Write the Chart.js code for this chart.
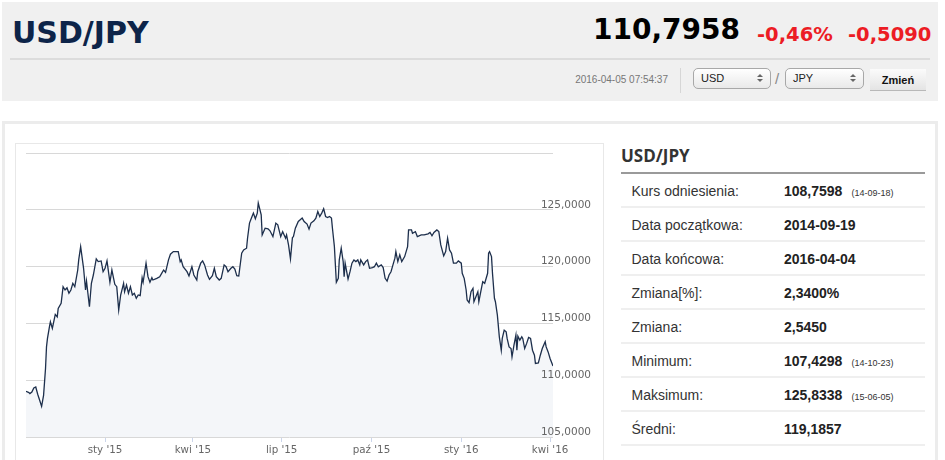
<!DOCTYPE html>
<html><head><meta charset="utf-8">
<script src="https://cdn.jsdelivr.net/npm/chart.js"></script>
<style>
html,body{margin:0;padding:0;background:#fff;width:945px;height:460px;overflow:hidden;}
.abs{position:absolute;}
#hdr{left:2px;top:2px;width:936px;height:99px;background:#f0f0f0;}
.big{font-family:"DejaVu Sans",Verdana,sans-serif;font-weight:bold;line-height:1;white-space:nowrap;}
.sel{height:19px;border:1px solid #a8a8a8;border-radius:5px;background:linear-gradient(#ffffff,#e9e9e9);font-family:"Liberation Sans",Arial,sans-serif;font-size:11px;color:#222;line-height:19px;box-sizing:content-box;}
.sel span{position:absolute;left:7px;top:0;}
.arr{position:absolute;right:7px;width:0;height:0;border-left:3px solid transparent;border-right:3px solid transparent;}
.up{top:5px;border-bottom:3px solid #666;}
.dn{top:10px;border-top:3px solid #666;}
#card{left:2px;top:121px;width:930px;height:345px;border:3px solid #ececec;}
#cbox{left:15px;top:143px;width:587px;height:330px;border:1px solid #e8e8e8;}
.row{position:absolute;left:621px;width:304px;height:32px;border-bottom:2px solid #efefef;font-family:"Liberation Sans",Arial,sans-serif;font-size:14px;color:#333;line-height:34px;}
.row .l{position:absolute;left:10.5px;}
.row .v{position:absolute;left:163px;font-weight:bold;color:#222;}
.row .v small{font-weight:normal;font-size:9px;margin-left:9px;color:#333;}
</style></head>
<body>
<div id="hdr" class="abs"></div>
<div class="abs big" style="left:12px;top:17.5px;font-size:30px;color:#0d2449;">USD/JPY</div>
<div class="abs big" style="left:593px;top:16px;font-size:28px;color:#000;">110,7958</div>
<div class="abs big" style="left:757px;top:25px;font-size:19.5px;color:#ec1c24;">-0,46%</div>
<div class="abs big" style="left:848px;top:25px;font-size:19.5px;color:#ec1c24;">-0,5090</div>
<div class="abs" style="left:10px;top:58px;width:920px;height:2px;background:#dcdcdc;"></div>
<div class="abs" style="left:500px;top:74px;width:168px;text-align:right;font-family:'Liberation Sans',Arial,sans-serif;font-size:10px;color:#777;">2016-04-05 07:54:37</div>
<div class="abs" style="left:680px;top:68px;width:1px;height:25px;background:#d6d6d6;"></div>
<div class="abs sel" style="left:693px;top:68px;width:76px;"><span>USD</span><i class="arr up"></i><i class="arr dn"></i></div>
<div class="abs" style="left:775px;top:70px;font-family:'Liberation Sans',Arial,sans-serif;font-size:15px;color:#888;">/</div>
<div class="abs sel" style="left:785px;top:68px;width:77px;"><span>JPY</span><i class="arr up"></i><i class="arr dn"></i></div>
<div class="abs" style="left:870px;top:69px;width:56px;height:21px;background:linear-gradient(#fbfbfb,#e4e4e4);border-bottom:1px solid #b8b8b8;font-family:'Liberation Sans',Arial,sans-serif;font-size:11px;font-weight:bold;color:#111;text-align:center;line-height:22px;">Zmień</div>

<div id="card" class="abs"></div>
<div id="cbox" class="abs"></div>
<canvas id="c" class="abs" width="588" height="317" style="left:15px;top:143px;width:588px;height:317px;"></canvas>

<div class="abs" style="left:621px;top:147px;font-family:'Open Sans',sans-serif;font-weight:700;font-size:17px;line-height:1;color:#333;">USD/JPY</div>
<div class="abs" style="left:621px;top:171.5px;width:304px;height:2px;background:#9a9a9a;"></div>
<div class="row" style="top:174px"><span class="l">Kurs odniesienia:</span><span class="v">108,7598<small>(14-09-18)</small></span></div>
<div class="row" style="top:208px"><span class="l">Data początkowa:</span><span class="v">2014-09-19</span></div>
<div class="row" style="top:242px"><span class="l">Data końcowa:</span><span class="v">2016-04-04</span></div>
<div class="row" style="top:276px"><span class="l">Zmiana[%]:</span><span class="v">2,3400%</span></div>
<div class="row" style="top:310px"><span class="l">Zmiana:</span><span class="v">2,5450</span></div>
<div class="row" style="top:344px"><span class="l">Minimum:</span><span class="v">107,4298<small>(14-10-23)</small></span></div>
<div class="row" style="top:378px"><span class="l">Maksimum:</span><span class="v">125,8338<small>(15-06-05)</small></span></div>
<div class="row" style="top:412px"><span class="l">Średni:</span><span class="v">119,1857</span></div>

<script>
const dates = [
"2014-10-12","2014-10-15","2014-10-16","2014-10-18","2014-10-20","2014-10-22","2014-10-24","2014-10-26","2014-10-28","2014-10-30",
"2014-11-01","2014-11-02","2014-11-03","2014-11-05","2014-11-06","2014-11-08","2014-11-11","2014-11-13","2014-11-14","2014-11-17",
"2014-11-19","2014-11-21","2014-11-23","2014-11-25","2014-11-27","2014-11-29","2014-12-01","2014-12-04","2014-12-05","2014-12-07",
"2014-12-10","2014-12-12","2014-12-13","2014-12-16","2014-12-18","2014-12-20","2014-12-23","2014-12-25","2014-12-28","2014-12-30",
"2015-01-01","2015-01-03","2015-01-06","2015-01-08","2015-01-11","2015-01-13","2015-01-15","2015-01-17","2015-01-20","2015-01-21",
"2015-01-23","2015-01-25","2015-01-27","2015-01-29","2015-01-31","2015-02-02","2015-02-04","2015-02-06","2015-02-08","2015-02-09",
"2015-02-12","2015-02-14","2015-02-16","2015-02-18","2015-02-19","2015-02-23","2015-02-26","2015-02-28","2015-03-02","2015-03-04",
"2015-03-07","2015-03-09","2015-03-12","2015-03-17","2015-03-19","2015-03-20","2015-03-22","2015-03-26","2015-03-28","2015-03-31",
"2015-04-02","2015-04-05","2015-04-06","2015-04-09","2015-04-11","2015-04-13","2015-04-16","2015-04-18","2015-04-21","2015-04-23",
"2015-04-25","2015-04-28","2015-04-30","2015-05-03","2015-05-05","2015-05-07","2015-05-10","2015-05-12","2015-05-14","2015-05-16",
"2015-05-18","2015-05-21","2015-05-23","2015-05-26","2015-05-27","2015-05-29","2015-05-31","2015-06-02","2015-06-04","2015-06-06",
"2015-06-07","2015-06-10","2015-06-11","2015-06-14","2015-06-17","2015-06-19","2015-06-22","2015-06-25","2015-06-27","2015-06-30",
"2015-07-02","2015-07-05","2015-07-06","2015-07-08","2015-07-10","2015-07-12","2015-07-13","2015-07-15","2015-07-18","2015-07-20",
"2015-07-22","2015-07-24","2015-07-27","2015-07-29","2015-07-31","2015-08-03","2015-08-05","2015-08-07","2015-08-09","2015-08-11",
"2015-08-13","2015-08-15","2015-08-17","2015-08-19","2015-08-21","2015-08-22","2015-08-24","2015-08-26","2015-08-28","2015-08-29",
"2015-08-31","2015-09-02","2015-09-03","2015-09-04","2015-09-07","2015-09-09","2015-09-11","2015-09-13","2015-09-15","2015-09-17",
"2015-09-19","2015-09-20","2015-09-23","2015-09-25","2015-09-27","2015-09-29","2015-10-02","2015-10-04","2015-10-06","2015-10-08",
"2015-10-11","2015-10-13","2015-10-15","2015-10-17","2015-10-19","2015-10-21","2015-10-23","2015-10-25","2015-10-26","2015-10-28",
"2015-10-30","2015-11-01","2015-11-04","2015-11-07","2015-11-08","2015-11-11","2015-11-12","2015-11-15","2015-11-17","2015-11-21",
"2015-11-24","2015-11-28","2015-11-30","2015-12-02","2015-12-04","2015-12-07","2015-12-09","2015-12-11","2015-12-14","2015-12-16",
"2015-12-18","2015-12-20","2015-12-22","2015-12-24","2015-12-27","2015-12-29","2016-01-01","2016-01-02","2016-01-04","2016-01-06",
"2016-01-07","2016-01-09","2016-01-11","2016-01-13","2016-01-14","2016-01-16","2016-01-18","2016-01-19","2016-01-21","2016-01-23",
"2016-01-25","2016-01-26","2016-01-28","2016-01-29","2016-01-30","2016-02-01","2016-02-02","2016-02-04","2016-02-05","2016-02-07",
"2016-02-09","2016-02-11","2016-02-12","2016-02-14","2016-02-16","2016-02-17","2016-02-19","2016-02-21","2016-02-22","2016-02-24",
"2016-02-26","2016-02-27","2016-02-28","2016-03-01","2016-03-03","2016-03-04","2016-03-06","2016-03-08","2016-03-10","2016-03-12",
"2016-03-14","2016-03-16","2016-03-17","2016-03-20","2016-03-22","2016-03-24","2016-03-27","2016-03-28","2016-03-30","2016-04-01",
"2016-04-03","2016-04-04"
];
const values = [
109.02,108.91,108.82,108.96,109.32,109.40,108.76,108.23,107.70,108.67,
111.03,112.93,113.68,114.70,115.14,114.56,115.79,115.58,116.32,116.77,
118.23,117.94,118.14,117.65,117.94,118.53,118.23,119.70,120.59,121.76,
119.85,117.94,118.73,116.47,118.53,119.26,120.68,120.44,120.50,119.55,
119.85,120.50,118.62,119.70,118.44,118.23,116.17,117.50,118.53,117.79,
118.38,117.65,118.23,117.50,117.65,117.21,117.50,117.44,119.02,118.62,
120.30,119.11,118.62,119.02,118.82,118.97,119.11,119.41,119.70,119.50,
120.59,121.09,121.32,121.32,120.44,120.59,119.99,119.55,119.17,119.99,
119.26,118.82,119.55,120.30,120.50,120.15,119.26,118.88,119.20,119.85,
119.11,118.82,118.97,120.15,119.99,119.55,119.85,119.99,119.79,119.20,
119.17,121.18,121.47,121.62,122.50,123.83,124.27,124.71,124.21,124.71,
125.60,124.56,122.79,123.38,123.32,123.15,122.64,123.83,123.68,122.64,
123.08,122.50,122.79,121.91,120.68,122.56,122.64,123.38,123.97,124.12,
124.27,123.97,123.74,123.30,123.83,124.03,124.27,124.85,124.41,124.71,
125.09,124.41,124.32,124.41,124.27,123.38,121.76,118.62,118.97,120.59,
121.62,120.44,119.11,120.30,118.91,119.55,120.30,120.59,120.44,120.59,
120.15,120.59,120.15,120.44,120.59,119.85,119.91,119.99,120.30,119.99,
120.15,119.91,118.97,118.73,119.26,119.55,120.15,120.74,121.32,120.44,
121.03,120.44,120.88,121.76,123.23,123.23,122.94,123.08,122.64,122.79,
122.79,122.88,123.00,122.71,123.00,123.23,123.08,121.91,120.94,121.32,
122.50,121.47,121.18,120.30,120.30,120.50,120.30,119.41,118.97,117.94,
117.06,116.82,117.79,118.09,116.91,117.35,117.79,116.91,117.79,118.67,
118.53,118.82,119.41,121.18,121.32,120.88,119.41,117.21,116.91,115.73,
113.82,112.64,113.68,114.41,114.26,113.68,112.93,112.79,112.05,113.08,
113.97,112.64,113.88,113.53,113.82,113.68,112.79,113.24,113.76,113.68,
112.64,112.20,111.47,111.52,112.20,112.79,113.38,112.93,112.49,111.91,
111.47,111.25
];
const tickDates = ["2015-01-01","2015-04-01","2015-07-01","2015-10-01","2016-01-01","2016-04-01"];
const tickLabels = ["sty '15","kwi '15","lip '15","paź '15","sty '16","kwi '16"];
const yMin = 105, yMax = 130, yStep = 5;

const base = Date.UTC(2015,0,1);
const toDay = s => (Date.parse(s) - base) / 86400000;
const fmt = v => v.toFixed(4).replace('.', ',');

new Chart(document.getElementById('c'), {
  type: 'line',
  data: { datasets: [{
    data: dates.map((d, i) => ({ x: toDay(d), y: values[i] })),
    borderColor: '#1d2f4c', borderWidth: 1.3, pointRadius: 0, tension: 0,
    fill: 'start', backgroundColor: '#f4f6f9'
  }]},
  options: {
    responsive: false, animation: false, devicePixelRatio: 1,
    layout: { padding: { left: 11, top: 10, right: 0, bottom: 0 } },
    plugins: { legend: { display: false }, tooltip: { enabled: false } },
    scales: {
      x: {
        type: 'linear', min: toDay(dates[0]), max: toDay(dates[dates.length - 1]),
        afterBuildTicks: s => { s.ticks = tickDates.map(d => ({ value: toDay(d) })); },
        afterFit: s => { s.height = 23; s.paddingLeft = 0; s.paddingRight = 0; },
        ticks: { callback: (v, i) => tickLabels[i], autoSkip: false, maxRotation: 0, color: '#666',
                 font: { family: 'DejaVu Sans', size: 10.3 }, padding: 2 },
        grid: { drawOnChartArea: false, drawTicks: true, tickLength: 5, color: '#ccd6eb' },
        border: { display: false }
      },
      y: {
        position: 'right', min: yMin, max: yMax,
        afterFit: s => { s.width = 50; s.paddingTop = 0; s.paddingBottom = 0; },
        ticks: { z: 1, stepSize: yStep, mirror: true, crossAlign: 'near', padding: 38, labelOffset: -5, color: '#666',
                 font: { family: 'DejaVu Sans', size: 10.5 },
                 callback: v => v === yMax ? '' : fmt(v) },
        grid: { color: '#d8d8d8', drawTicks: false },
        border: { display: false }
      }
    }
  }
});
</script>
</body></html>
